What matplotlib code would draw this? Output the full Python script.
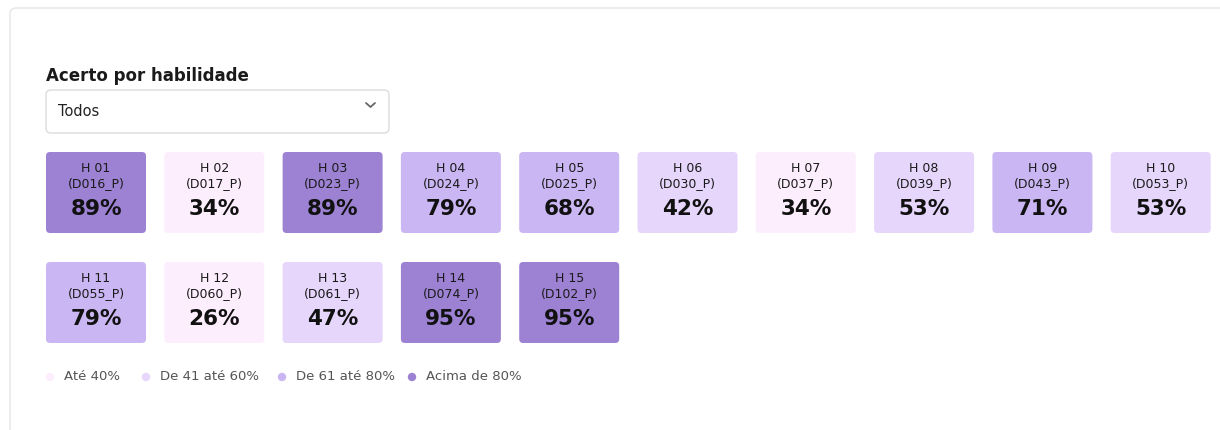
import matplotlib
matplotlib.use("Agg")
import matplotlib.pyplot as plt
from matplotlib.patches import FancyBboxPatch, Circle
from matplotlib.lines import Line2D

# ---- data ----
skills = ["H 01", "H 02", "H 03", "H 04", "H 05", "H 06", "H 07", "H 08",
          "H 09", "H 10", "H 11", "H 12", "H 13", "H 14", "H 15"]
codes = ["(D016_P)", "(D017_P)", "(D023_P)", "(D024_P)", "(D025_P)", "(D030_P)",
         "(D037_P)", "(D039_P)", "(D043_P)", "(D053_P)", "(D055_P)", "(D060_P)",
         "(D061_P)", "(D074_P)", "(D102_P)"]
values = [89, 34, 89, 79, 68, 42, 34, 53, 71, 53, 79, 26, 47, 95, 95]
legend_labels = ["Até 40%", "De 41 até 60%", "De 61 até 80%", "Acima de 80%"]
band_colors = ["#FDEEFD", "#E6D6FB", "#CAB6F2", "#9D82D4"]
title = "Acerto por habilidade"
dropdown = "Todos"

FONT = ["DejaVu Sans"]

def band(v):
    if v <= 40:
        return 0
    if v <= 60:
        return 1
    if v <= 80:
        return 2
    return 3

fig = plt.figure(figsize=(12.2, 4.3), dpi=100)
ax = fig.add_axes([0, 0, 1, 1])
ax.set_xlim(0, 1220)
ax.set_ylim(430, 0)
ax.axis("off")

# card border
ax.add_patch(FancyBboxPatch((10, 8), 1300, 500, boxstyle="round,pad=0,rounding_size=6",
                            fc="white", ec="#E6E6E6", lw=1.0))

ax.text(46, 76, title, fontsize=12, fontweight="bold", color="#1a1a1a",
        va="center", ha="left", family=FONT)

# dropdown
ax.add_patch(FancyBboxPatch((46, 90), 343, 43, boxstyle="round,pad=0,rounding_size=5",
                            fc="white", ec="#DCDCDC", lw=1.0))
ax.text(58, 112, dropdown, fontsize=10.5, color="#222222", va="center", ha="left", family=FONT)
ax.plot([366, 370.5, 375], [103, 107, 103], color="#666666", lw=1.3, solid_capstyle="round")

# tiles
x0, y0 = 46, 152
pitch_x, pitch_y = 118.3, 110
w, h = 100, 81
for i, (s, c, v) in enumerate(zip(skills, codes, values)):
    col, row = i % 10, i // 10
    x = x0 + col * pitch_x
    y = y0 + row * pitch_y
    ax.add_patch(FancyBboxPatch((x, y), w, h, boxstyle="round,pad=0,rounding_size=4",
                                fc=band_colors[band(v)], ec="none"))
    cx = x + w / 2
    ax.text(cx, y + 16, s, fontsize=9, color="#1a1a1a", ha="center", va="center", family=FONT)
    ax.text(cx, y + 32, c, fontsize=9, color="#1a1a1a", ha="center", va="center", family=FONT)
    ax.text(cx, y + 57, f"{v}%", fontsize=15.5, fontweight="bold", color="#111111",
            ha="center", va="center", family=FONT)

# legend
lx = [50, 146, 282, 412]
for xx, lab, colr in zip(lx, legend_labels, band_colors):
    ax.add_patch(Circle((xx, 377), 4.2, fc=colr, ec="none"))
    ax.text(xx + 14, 377, lab, fontsize=9.5, color="#555555", ha="left", va="center", family=FONT)

fig.savefig("out.png", dpi=100)
